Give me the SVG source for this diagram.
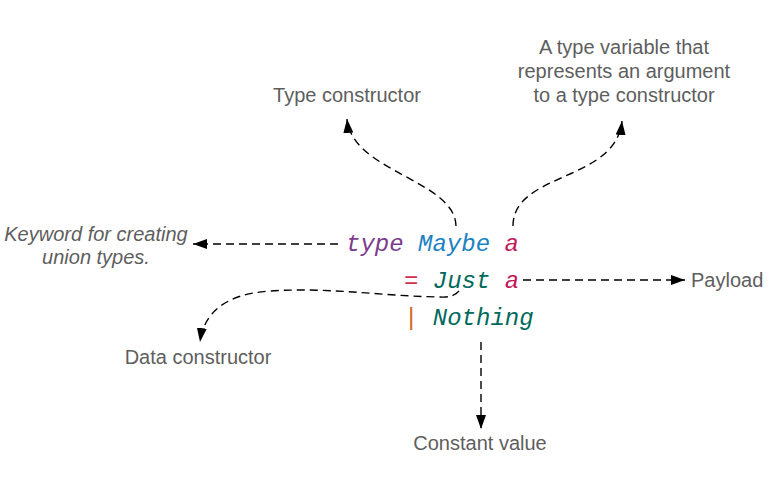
<svg xmlns="http://www.w3.org/2000/svg" width="769" height="496" viewBox="0 0 769 496">
<style>
.lbl{font-family:"Liberation Sans",Arial,sans-serif;font-size:20px;fill:#5e5e5e}
.it{font-style:italic}
.code{font-family:"Liberation Mono","DejaVu Sans Mono",monospace;font-style:italic;font-size:24px}
.conn{fill:none;stroke:#000;stroke-width:1.4;stroke-dasharray:8 5}
</style>
<defs>
<marker id="ah" markerUnits="userSpaceOnUse" markerWidth="14" markerHeight="10" refX="14" refY="5" orient="auto" viewBox="0 0 14 10">
<path d="M0,0 L14,5 L0,10 z" fill="#000"/>
</marker>
</defs>
<rect width="769" height="496" fill="#fff"/>
<g id="code">
<text class="code" x="346" y="251"><tspan fill="#7d3c8c">type</tspan> <tspan fill="#1b82c2">Maybe</tspan> <tspan fill="#c2185b">a</tspan></text>
<text class="code" x="404" y="288"><tspan fill="#d32f4f">=</tspan> <tspan fill="#00695c">Just</tspan> <tspan fill="#c2185b">a</tspan></text>
<text class="code" x="404" y="325"><tspan fill="#d2691e">|</tspan> <tspan fill="#00695c">Nothing</tspan></text>
</g>
<g id="n-typecons"><text class="lbl" x="347" y="102" text-anchor="middle">Type constructor</text></g>
<g id="n-typevar"><text class="lbl" text-anchor="middle"><tspan x="624" y="54">A type variable that</tspan><tspan x="624" y="78">represents an argument</tspan><tspan x="624" y="102">to a type constructor</tspan></text></g>
<g id="n-keyword"><text class="lbl it" text-anchor="middle"><tspan x="96" y="241">Keyword for creating</tspan><tspan x="96" y="264">union types.</tspan></text></g>
<g id="n-payload"><text class="lbl" x="691" y="287">Payload</text></g>
<g id="n-datacons"><text class="lbl" x="198" y="364" text-anchor="middle">Data constructor</text></g>
<g id="n-constant"><text class="lbl" x="480" y="450" text-anchor="middle">Constant value</text></g>
<g id="connectors">
<path class="conn" d="M456,226 C455,180 352,172 347,119" marker-end="url(#ah)"/>
<path class="conn" d="M513,226 C513,172 616,182 622,121" marker-end="url(#ah)"/>
<path class="conn" d="M338,244 L193,244" marker-end="url(#ah)"/>
<path class="conn" d="M523,280 L685,280" marker-end="url(#ah)"/>
<path class="conn" d="M459,291 Q453,298 440,297 C380,296 330,287 270,291 C226,294 204,312 200,342" marker-end="url(#ah)"/>
<path class="conn" d="M481,342 L481,429" marker-end="url(#ah)"/>
</g>
</svg>
